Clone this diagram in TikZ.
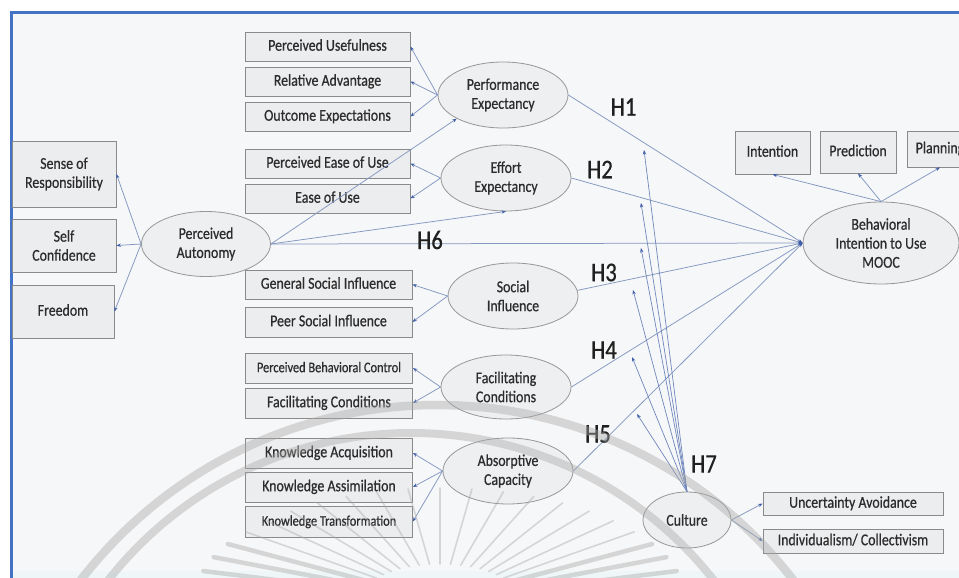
\documentclass[tikz,border=0pt]{standalone}
\usepackage{fontspec}
\setmainfont{Carlito}[FakeStretch=0.84,FakeBold=0.6]
\usetikzlibrary{shapes.geometric,arrows.meta,calc}

\definecolor{paper}{HTML}{F6F7F8}
\definecolor{haze}{HTML}{EEF6F8}
\definecolor{framec}{HTML}{4472C4}
\definecolor{boxfill}{HTML}{ECEDEF}
\definecolor{boxline}{HTML}{8A8A8A}
\definecolor{ellfill}{HTML}{EEEFF1}
\definecolor{ellline}{HTML}{979797}
\definecolor{linkc}{HTML}{8397C0}
\definecolor{modc}{HTML}{6F87BC}
\definecolor{tipc}{HTML}{3F5FA8}
\definecolor{inkc}{HTML}{2C2C2C}
\definecolor{sealc}{HTML}{A8A8A8}

\newcommand{\boxfont}{\fontsize{16.5}{19}\selectfont}
\newcommand{\smallboxfont}{\fontsize{14.7}{17}\selectfont}
\newcommand{\hypfont}{\fontsize{27}{27}\selectfont}

\begin{document}
\begin{tikzpicture}[x=1pt,y=-1pt,
  ind/.style={rectangle, draw=boxline, fill=boxfill, line width=0.8pt,
    minimum width=165pt, minimum height=29pt, inner sep=0pt,
    text=inkc, font=\boxfont, align=center},
  oneline/.style={text height=12pt, text depth=3.6pt},
  lat/.style={ellipse, draw=ellline, fill=ellfill, line width=0.8pt,
    minimum width=130pt, minimum height=66pt, inner sep=0pt,
    text=inkc, font=\boxfont, align=center},
  hyp/.style={inner sep=0pt, text=black!88, font=\hypfont},
  link/.style={draw=linkc, line width=0.75pt,
    -{Stealth[length=4.5pt,width=3.4pt,color=tipc]}},
  modlink/.style={draw=modc, line width=0.7pt,
    -{Stealth[length=4.5pt,width=3.4pt,color=tipc]}},
  seal/.style={draw=sealc, line cap=round}
]
\useasboundingbox (0,0) rectangle (959,578);

% page and frame
\fill[white] (0,0) rectangle (959,578);
\fill[paper] (11,12) rectangle (959,578);
\fill[haze] (11,571) rectangle (959,578);
\draw[framec, line width=2.2pt] (11.5,578) -- (11.5,12.5) -- (959,12.5);

% indicators of the central constructs
\node[ind, oneline] (pu)  at (327.5,46.5)  {Perceived Usefulness};
\node[ind, oneline] (ra)  at (327.5,81.5)  {Relative Advantage};
\node[ind, oneline] (oe)  at (327.5,116.5) {Outcome Expectations};
\node[ind, oneline] (peou) at (327.5,163.5) {Perceived Ease of Use};
\node[ind, oneline] (eou) at (327.5,198.5) {Ease of Use};
\node[ind, oneline, minimum width=167pt] (gsi) at (328.5,284.5) {General Social Influence};
\node[ind, oneline, minimum width=167pt, minimum height=30pt] (psi) at (328.5,322) {Peer Social Influence};
\node[ind, oneline, minimum width=167pt, minimum height=30pt, font=\smallboxfont] (pbc) at (329,368) {Perceived Behavioral Control};
\node[ind, oneline, minimum width=167pt, minimum height=30pt] (fcb) at (329,403) {Facilitating Conditions};
\node[ind, oneline, minimum width=167pt, minimum height=30pt] (ka)  at (329,453) {Knowledge Acquisition};
\node[ind, oneline, minimum width=167pt, minimum height=30pt] (kas) at (329,487) {Knowledge Assimilation};
\node[ind, oneline, minimum width=167pt, minimum height=31pt, font=\smallboxfont] (kt) at (329,521.5) {Knowledge Transformation};

% indicators of perceived autonomy
\node[ind, minimum width=104pt, minimum height=66pt] (sor) at (64,174) {Sense of\\Responsibility};
\node[ind, minimum width=104pt, minimum height=53pt] (sc)  at (64,245.5) {Self\\Confidence};
\node[ind, oneline, minimum width=102pt, minimum height=53pt] (fr) at (63,311.5) {Freedom};

% indicators of the outcome
\node[ind, oneline, minimum width=75pt, minimum height=43pt] (int)  at (772.5,152.5) {Intention};
\node[ind, oneline, minimum width=76pt, minimum height=42pt] (pred) at (858,152) {Prediction};
\node[ind, oneline, minimum width=66pt, minimum height=36pt] (plan) at (940,149) {Planning};

% indicators of culture
\node[ind, oneline, minimum width=180pt, minimum height=23pt] (ua) at (853,503.5) {Uncertainty Avoidance};
\node[ind, oneline, minimum width=180pt, minimum height=24pt] (ic) at (853,541) {Individualism/ Collectivism};

% latent constructs
\node[lat] (pe) at (503,95)  {Performance\\Expectancy};
\node[lat] (ee) at (506,178) {Effort\\Expectancy};
\node[lat] (si) at (513,296) {Social\\Influence};
\node[lat, minimum height=64pt] (fc) at (506,387) {Facilitating\\Conditions};
\node[lat] (ac) at (508,471) {Absorptive\\Capacity};
\node[lat, minimum width=129pt, minimum height=65pt] (pa) at (206,244) {Perceived\\Autonomy};
\node[lat, minimum width=88pt, minimum height=56pt] (cu) at (687,520) {Culture};
\node[lat, minimum width=156pt, minimum height=82pt] (bi) at (881,243) {Behavioral\\Intention to Use\\MOOC};

% reflective measurement arrows
\foreach \ind in {pu,ra,oe} \draw[link] (pe.west) -- (\ind.east);
\foreach \ind in {peou,eou} \draw[link] (ee.west) -- (\ind.east);
\foreach \ind in {gsi,psi} \draw[link] (si.west) -- (\ind.east);
\foreach \ind in {pbc,fcb} \draw[link] (fc.west) -- (\ind.east);
\foreach \ind in {ka,kas,kt} \draw[link] (ac.west) -- (\ind.east);
\foreach \ind in {sor,sc,fr} \draw[link] (pa.west) -- (\ind.east);
\foreach \ind in {int,pred,plan} \draw[link] (bi.north) -- (\ind.south);
\foreach \ind in {ua,ic} \draw[link] (cu.east) -- (\ind.west);

% structural paths
\draw[link] (pa.east) -- (pe.south west);
\draw[link] (pa.east) -- (ee.south);
\draw[link] (pa.east) -- (bi.west);
\draw[link] (pe.east) -- (bi.west);
\draw[link] (ee.east) -- (bi.west);
\draw[link] (si.5)    -- (bi.west);
\draw[link] (fc.east) -- (bi.west);
\draw[link] (ac.east) -- (bi.west);

% moderation by culture
\coordinate (m1) at (644,150);
\coordinate (m2) at (641,203);
\coordinate (m3) at (641,248);
\coordinate (m4) at (633,290);
\coordinate (m5) at (632,357);
\coordinate (m6) at (637,414);
\foreach \m in {m1,m2,m3,m4,m5,m6} \draw[modlink] (cu.north) -- (\m);

% hypothesis labels
\node[hyp] (h1) at (623.5,107) {H1};
\node[hyp] (h2) at (600,169.5) {H2};
\node[hyp] (h3) at (604,272.5) {H3};
\node[hyp] (h4) at (604,350) {H4};
\node[hyp] (h5) at (598,434) {H5};
\node[hyp] (h6) at (430,240) {H6};
\node[hyp] (h7) at (704,464) {H7};

% faint seal in the background
\begin{scope}[opacity=0.42]
  \clip (11,12) rectangle (959,578);
  \draw[seal, line width=8.5pt] (437,855) circle[radius=450];
  \draw[seal, line width=8pt] (411,818) circle[radius=385];
  \foreach \t in {15,22.5,...,165} {
    \pgfmathsetmacro{\w}{(\t<36 || \t>144) ? 4.5 : 1.6}
    \draw[seal, line width=\w pt]
      ({440+80*cos(\t)},{600-36*sin(\t)}) -- ({440+245*cos(\t)},{600-112*sin(\t)});
  }
\end{scope}
\end{tikzpicture}
\end{document}
